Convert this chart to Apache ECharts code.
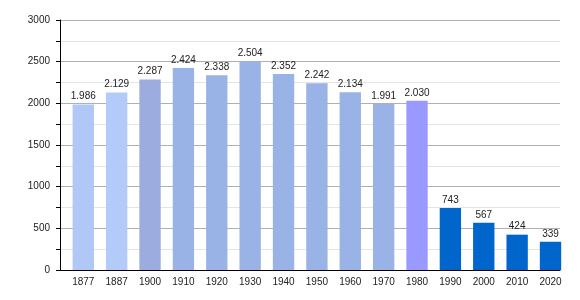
<!DOCTYPE html>
<html><head><meta charset="utf-8">
<script src="https://cdn.jsdelivr.net/npm/echarts@6/dist/echarts.min.js"></script>
<style>html,body{margin:0;padding:0;background:#fff}#c{width:580px;height:300px}</style>
</head><body><div id="c"></div>
<script>
const years = ['1877','1887','1900','1910','1920','1930','1940','1950','1960','1970','1980','1990','2000','2010','2020'];
const population = [1986,2129,2287,2424,2338,2504,2352,2242,2134,1991,2030,743,567,424,339];
const barColors = ['#b0c8f6','#b3cbf9','#9dacdf','#99b3e6','#99b3e6','#99b3e6','#99b3e6','#99b3e6','#99b3e6','#99b3e6','#9999ff','#0066cc','#0066cc','#0066cc','#0066cc'];
const yTicks = [0,500,1000,1500,2000,2500,3000];

const font = 'Liberation Sans';
const chart = echarts.init(document.getElementById('c'));
chart.setOption({
  animation:false,
  grid:[{left:60,right:20,top:20,bottom:30},{left:66.6,right:12.8,top:20,bottom:30}],
  xAxis:[
    {gridIndex:0,type:'category',data:years,
      axisLine:{lineStyle:{color:'#000',width:1}},
      axisTick:{show:false},axisLabel:{show:false},splitLine:{show:false}},
    {gridIndex:1,type:'category',data:years,
      axisLine:{show:false},axisTick:{show:false},
      axisLabel:{color:'#222',fontSize:10,fontFamily:font,margin:7}}
  ],
  yAxis:[
    {gridIndex:0,type:'value',min:yTicks[0],max:yTicks[yTicks.length-1],interval:500,
      axisLine:{show:true,lineStyle:{color:'#000',width:1}},
      axisTick:{show:true,length:4,lineStyle:{color:'#000'}},
      minorTick:{show:true,splitNumber:2,length:4,lineStyle:{color:'#000'}},
      splitLine:{lineStyle:{color:'#b0b0b0'}},
      minorSplitLine:{show:true,lineStyle:{color:'#e4e4e4'}},
      axisLabel:{color:'#222',fontSize:10,fontFamily:font,margin:10,formatter:v=>String(v)}},
    {gridIndex:1,type:'value',min:yTicks[0],max:yTicks[yTicks.length-1],interval:500,show:false,
      splitLine:{show:false}}
  ],
  series:[{type:'bar',xAxisIndex:1,yAxisIndex:1,barWidth:'64%',
    data:population.map((v,i)=>({value:v,itemStyle:{color:barColors[i]}})),
    label:{show:true,position:'top',distance:3,color:'#222',fontSize:10,fontFamily:font,
      formatter:p=>p.value>=1000?Math.floor(p.value/1000)+'.'+String(p.value%1000).padStart(3,'0'):String(p.value)}
  }]
});
</script></body></html>
